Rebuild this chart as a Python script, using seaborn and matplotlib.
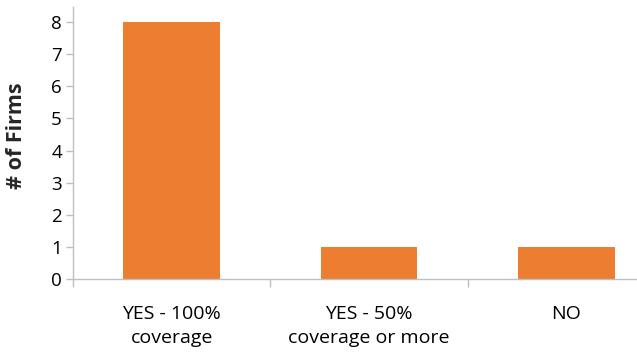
import matplotlib
matplotlib.use("Agg")
import matplotlib.pyplot as plt
import seaborn as sns
import pandas as pd
from matplotlib.ticker import FixedLocator

categories = ["YES - 100%\ncoverage", "YES - 50%\ncoverage or more", "NO"]
firms = [8, 1, 1]
yticks = [0, 1, 2, 3, 4, 5, 6, 7, 8]

sns.set_theme(style="white")
plt.rcParams['font.family'] = ['Open Sans', 'DejaVu Sans']

df = pd.DataFrame({"cat": categories, "n": firms})

fig = plt.figure(figsize=(6.37, 3.54), dpi=100)
ax = fig.add_axes([73/637, 75/354, 592/637, 272/354])
sns.barplot(data=df, x="cat", y="n", color="#ED7D31", saturation=1, width=0.49, ax=ax)
for p in ax.patches:
    p.set_edgecolor("none")

ax.set_xlim(-0.5, 2.5)
ax.set_ylim(0, 8.47)
ax.set_yticks(yticks)
ax.set_yticklabels([str(v) for v in yticks], fontsize=13.5, color="#000000")
ax.set_xticks(range(len(categories)))
ax.set_xticklabels(categories, fontsize=14, color="#000000", linespacing=1.4)
ax.xaxis.set_minor_locator(FixedLocator([-0.5, 0.5, 1.5, 2.5]))
ax.tick_params(axis="x", which="major", length=0, pad=19)
ax.tick_params(axis="x", which="minor", length=6, width=1, color="#BFBFBF", bottom=True)
ax.tick_params(axis="y", which="major", length=5, width=1, color="#BFBFBF", left=True, pad=3)
ax.set_xlabel("")
ax.set_ylabel("# of Firms", fontsize=15.5, fontweight="bold")
ax.yaxis.set_label_coords(-0.078, 0.526)

for s in ["top", "right"]:
    ax.spines[s].set_visible(False)
for s in ["left", "bottom"]:
    ax.spines[s].set_color("#BFBFBF")
    ax.spines[s].set_linewidth(1)

fig.savefig("out.png", dpi=100)
